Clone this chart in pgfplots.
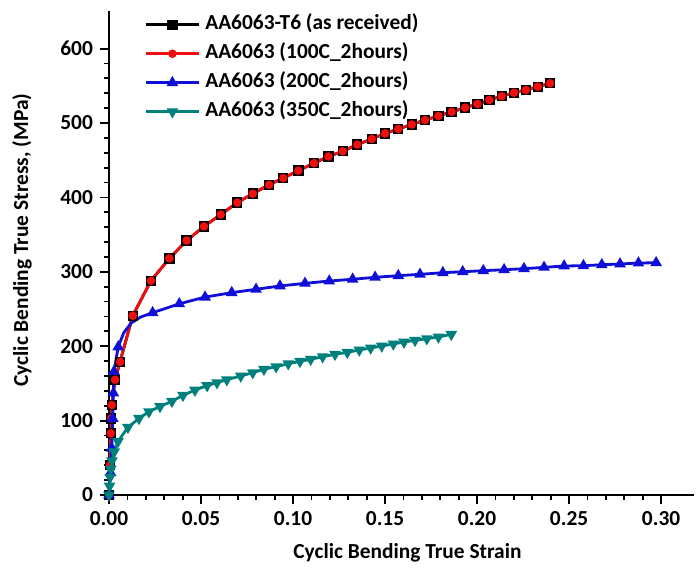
\documentclass[border=0pt]{standalone}
\usepackage{fontspec}
\setmainfont{Carlito}
\usepackage{pgfplots}
\usepackage{pgfplotstable}
\pgfplotsset{compat=1.18}
\definecolor{myred}{RGB}{240,15,15}
\definecolor{myblue}{RGB}{15,15,215}
\definecolor{myteal}{RGB}{0,128,125}
\newcommand{\lblfont}{\fontsize{10.7}{12}\selectfont\bfseries}

\pgfplotstableread{
x y
0 0
0.0005 40
0.001 83
0.0012 103
0.0015 121
0.0033 155
0.006 179
0.0129 241
0.0228 288
0.0328 318
0.0422 342
0.0516 361
0.0607 377
0.0697 393
0.0781 405
0.0870 417
0.0947 426
0.1029 436
0.1114 446
0.1192 455
0.1270 462
0.1349 471
0.1428 478.5
0.1500 486
0.1572 492
0.1645 498
0.1717 504
0.1790 509.4
0.1862 515
0.1935 520.6
0.2002 525.5
0.2067 531
0.2134 536
0.2201 540.7
0.2265 544.4
0.2330 548.8
0.2397 553.4
}\tabasrec

\pgfplotstableread{
x y
0 0
0.0005 40
0.001 83
0.0012 103
0.0015 121
0.0033 155
0.006 179
0.0129 241
0.0228 288
0.0328 318
0.0422 342
0.0516 361
0.0607 377
0.0697 393
0.0781 405
0.0870 417
0.0947 426
0.1029 436
0.1114 446
0.1192 455
0.1270 462
0.1349 471
0.1428 478.5
0.1500 486
0.1572 492
0.1645 498
0.1717 504
0.1790 509.4
0.1862 515
0.1935 520.6
0.2002 525.5
0.2067 531
0.2134 536
0.2201 540.7
0.2265 544.4
0.2330 548.8
0.2397 553.4
}\tabhundred

\pgfplotstableread{
x y
0 0
0.0008 30
0.0015 63
0.0020 103
0.0024 137
0.0027 166
0.0050 199
0.0080 218
0.0120 231
0.0170 239
0.0237 245
0.0382 257
0.0522 266
0.0667 272
0.0799 276.5
0.0929 281
0.1065 284.5
0.1197 287.6
0.1324 290
0.1446 292.6
0.1572 294.8
0.1690 296.6
0.1814 298.8
0.1922 300.1
0.2034 301.5
0.2147 302.8
0.2255 304.2
0.2364 306
0.2473 307.8
0.2578 308.2
0.2678 309.5
0.2777 310.5
0.2877 311.8
0.2973 312.2
}\tabtwohundred

\pgfplotstableread{
x y
0 0
0.0003 12
0.0006 24
0.0010 35
0.0016 46
0.0028 58
0.0049 72
0.0103 91
0.0163 103
0.0217 112
0.0277 119
0.0342 126
0.0402 134
0.0467 141
0.0533 147
0.0587 151
0.0640 155
0.0716 160
0.0781 164.4
0.0842 169
0.0908 172.5
0.0974 176.5
0.1038 179.7
0.1096 182.4
0.1161 185.9
0.1228 189.1
0.1295 191.8
0.1360 194.9
0.1422 197.6
0.1482 200.3
0.1545 203
0.1603 205.6
0.1663 207.9
0.1727 210.1
0.1790 212.4
0.1860 216
}\tabthreefifty

\begin{document}
\begin{tikzpicture}
\begin{axis}[
  at={(0,0)}, anchor=south west,
  scale only axis, width=292.6pt, height=241.8pt,
  xmin=0, xmax=0.318, ymin=0, ymax=650,
  axis x line*=bottom, axis y line*=left,
  axis line style={line width=1pt},
  every tick/.style={line width=0.9pt, black},
  tick align=outside,
  major tick length=4.5pt, minor tick length=2.5pt,
  xtick={0,0.05,0.10,0.15,0.20,0.25,0.30},
  ytick={0,100,200,300,400,500,600},
  minor x tick num=4, minor y tick num=4,
  /pgf/number format/assume math mode=true,
  tick label style={font=\lblfont},
  xticklabel style={/pgf/number format/.cd, fixed, fixed zerofill, precision=2},
  yticklabel style={/pgf/number format/.cd, fixed, precision=0},
  scaled x ticks=false,
  xlabel={Cyclic Bending True Strain},
  ylabel={Cyclic Bending True Stress, (MPa)},
  label style={font=\lblfont},
  xlabel style={at={(axis description cs:0.51,0)}, anchor=center, yshift=-29pt},
  ylabel style={at={(axis description cs:0,0.527)}, anchor=center, yshift=43.5pt},
  legend image code/.code={\draw[mark repeat=2,mark phase=2,#1] plot coordinates {(0pt,0pt) (13.25pt,0pt) (26.5pt,0pt)};},
  legend cell align=left,
  legend style={draw=none, fill=none, font=\lblfont, inner sep=0pt,
    at={(axis description cs:0.06,0.994)}, anchor=north west,
    nodes={inner sep=0pt, text height=7.5pt, text depth=2.5pt},
    row sep=4.5pt, column sep=2.5pt},
]
\addplot[black, line width=1.4pt, mark=square*, mark size=1.9pt, mark options={solid, fill=black}] table[x=x,y=y] {\tabasrec};
\addlegendentry{AA6063-T6 (as received)}
\addplot[myred, line width=1.4pt, mark=*, mark size=1.4pt, mark options={solid, fill=myred}] table[x=x,y=y] {\tabhundred};
\addlegendentry{AA6063 (100C\_2hours)}
\addplot[forget plot, myblue, line width=1.4pt, mark=triangle*, mark size=2pt, mark options={solid, fill=myblue},
  mark indices={1,2,3,4,5,6,7,11,12,13,14,15,16,17,18,19,20,21,22,23,24,25,26,27,28,29,30,31,32,33,34}] table[x=x,y=y] {\tabtwohundred};
\addlegendimage{myblue, line width=1.4pt, mark=triangle*, mark size=2pt, mark options={solid, fill=myblue}}
\addlegendentry{AA6063 (200C\_2hours)}
\addplot[myteal, line width=1.4pt, mark=triangle*, mark size=2pt, mark options={solid, fill=myteal, rotate=180}] table[x=x,y=y] {\tabthreefifty};
\addlegendentry{AA6063 (350C\_2hours)}
\end{axis}
\pgfresetboundingbox
\path[use as bounding box] (-54.5pt,-37pt) rectangle (295.5pt,247.5pt);
\end{tikzpicture}
\end{document}
